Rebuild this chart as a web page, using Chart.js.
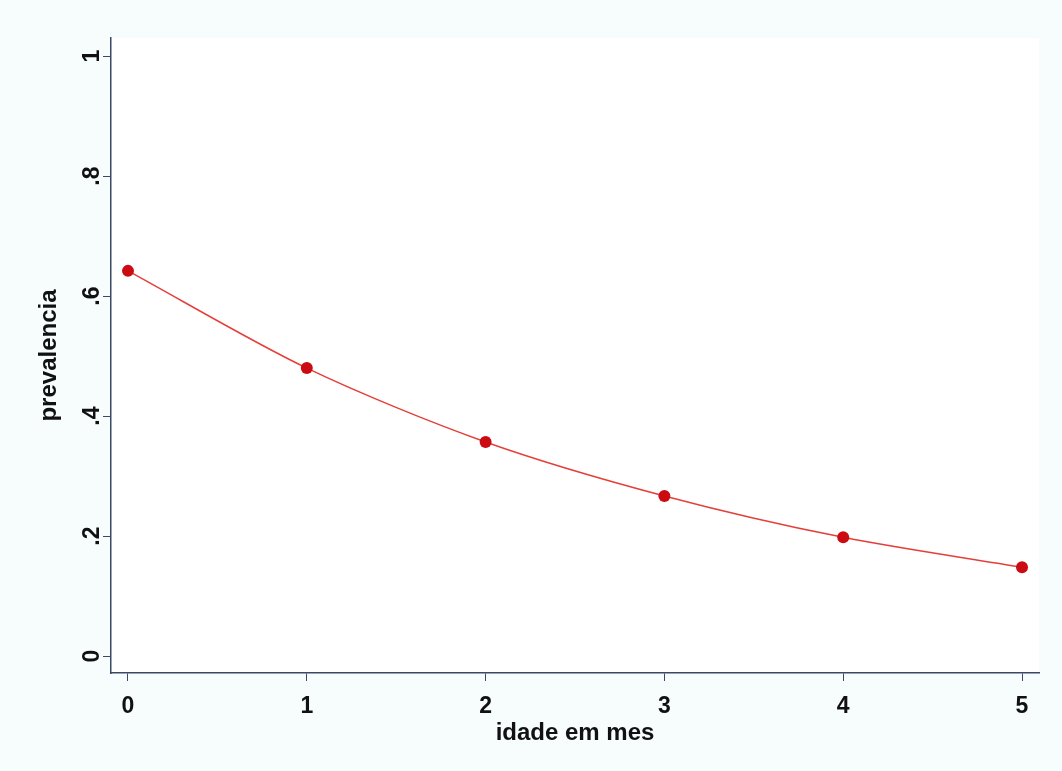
<!DOCTYPE html>
<html>
<head>
<meta charset="utf-8">
<title>prevalencia por idade</title>
<script src="https://cdn.jsdelivr.net/npm/chart.js@4.4.1/dist/chart.umd.min.js"></script>
<style>
    html, body {
        margin: 0;
        padding: 0;
        background: #f7fcfd;
    }
    .chart-box {
        width: 1062px;
        height: 771px;
        position: relative;
    }
</style>
</head>
<body>
<div class="chart-box">
    <canvas id="prevChart"></canvas>
</div>
<script>
// Age in months and the prevalence at each age
const ages = [0, 1, 2, 3, 4, 5];
const prevalence = [0.642, 0.48, 0.357, 0.267, 0.198, 0.148];

// Axis ticks
const xTickValues = [0, 1, 2, 3, 4, 5];
const yTickValues = [0, 0.2, 0.4, 0.6, 0.8, 1];
const yTickLabels = ['0', '.2', '.4', '.6', '.8', '1'];

const FONT = "'Liberation Sans', Arial, sans-serif";
const AXIS_COLOR = '#3b4868';

// White plotting region on top of the tinted page
const plotBackground = {
    id: 'plotBackground',
    beforeDraw(chart) {
        const { ctx, chartArea } = chart;
        ctx.save();
        ctx.fillStyle = '#ffffff';
        ctx.fillRect(chartArea.left, chartArea.top,
            chartArea.right - chartArea.left, chartArea.bottom - chartArea.top);
        ctx.restore();
    }
};

function initializeChart() {
    const ctx = document.getElementById('prevChart').getContext('2d');
    new Chart(ctx, {
        type: 'line',
        data: {
            datasets: [{
                label: 'prevalencia',
                data: ages.map((a, i) => ({ x: a, y: prevalence[i] })),
                borderColor: '#e4403a',
                borderWidth: 1.5,
                pointRadius: 6,
                pointBackgroundColor: '#cc0a12',
                pointBorderColor: '#cc0a12',
                pointBorderWidth: 0,
                tension: 0.3,
                fill: false
            }]
        },
        options: {
            responsive: true,
            maintainAspectRatio: false,
            animation: false,
            layout: {
                padding: { top: 38, right: 23, left: 0, bottom: 0 }
            },
            plugins: {
                legend: { display: false },
                tooltip: { enabled: false }
            },
            scales: {
                x: {
                    type: 'linear',
                    min: -0.095,
                    max: 5.095,
                    afterBuildTicks: scale => {
                        scale.ticks = xTickValues.map(v => ({ value: v }));
                    },
                    afterFit: scale => { scale.height = 98; },
                    grid: {
                        drawOnChartArea: false,
                        drawTicks: true,
                        tickLength: 8,
                        color: AXIS_COLOR,
                        lineWidth: 1
                    },
                    border: { color: AXIS_COLOR, width: 1.5 },
                    ticks: {
                        padding: 12,
                        maxRotation: 0,
                        color: '#111',
                        font: { family: FONT, size: 23, weight: 'bold' },
                        callback: v => String(v)
                    },
                    title: {
                        display: true,
                        text: 'idade em mes',
                        color: '#111',
                        font: { family: FONT, size: 24, weight: 'bold' },
                        padding: { top: 0, bottom: 23 }
                    }
                },
                y: {
                    type: 'linear',
                    min: -0.028,
                    max: 1.03,
                    afterBuildTicks: scale => {
                        scale.ticks = yTickValues.map(v => ({ value: v }));
                    },
                    afterFit: scale => { scale.width = 111; },
                    grid: {
                        drawOnChartArea: false,
                        drawTicks: true,
                        tickLength: 8,
                        color: AXIS_COLOR,
                        lineWidth: 1
                    },
                    border: { color: AXIS_COLOR, width: 1.5 },
                    ticks: {
                        minRotation: 90,
                        maxRotation: 90,
                        crossAlign: 'center',
                        padding: 1,
                        color: '#111',
                        font: { family: FONT, size: 23, weight: 'bold' },
                        callback: v => yTickLabels[yTickValues.indexOf(v)]
                    },
                    title: {
                        display: true,
                        text: 'prevalencia',
                        color: '#111',
                        font: { family: FONT, size: 24, weight: 'bold' },
                        padding: { top: 35, bottom: 0 }
                    }
                }
            }
        },
        plugins: [plotBackground]
    });
}

document.addEventListener('DOMContentLoaded', initializeChart);
</script>
</body>
</html>
